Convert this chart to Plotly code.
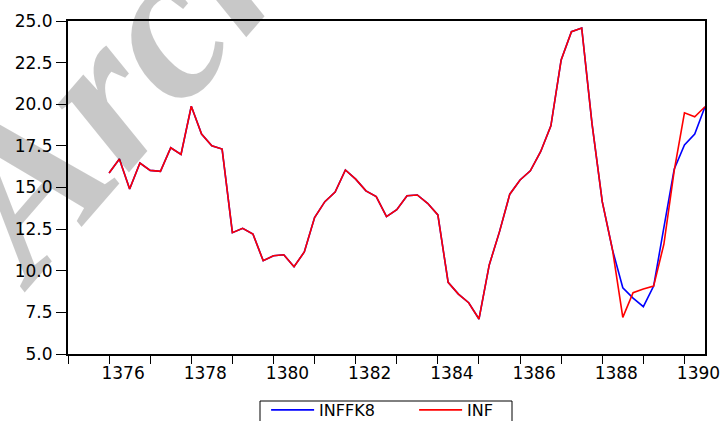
import plotly.graph_objects as go

# Quarterly series starting 1376Q1
start_year = 1376
inf = [15.87, 16.71, 14.91, 16.47, 16.03, 15.97, 17.39, 16.99, 19.88, 18.21,
       17.51, 17.31, 12.29, 12.55, 12.21, 10.60, 10.90, 10.96, 10.24, 11.13,
       13.19, 14.15, 14.73, 16.05, 15.50, 14.80, 14.45, 13.25, 13.67, 14.50,
       14.55, 14.05, 13.35, 9.30, 8.60, 8.08, 7.10, 10.35, 12.35, 14.60,
       15.45, 16.00, 17.15, 18.70, 22.66, 24.36, 24.58, 18.85, 14.15, 11.25,
       7.20, 8.68, 8.90, 9.08, 11.60, 16.00, 19.49, 19.25, 19.85]
inffk8 = [15.87, 16.71, 14.91, 16.47, 16.03, 15.97, 17.39, 16.99, 19.88, 18.21,
          17.51, 17.31, 12.29, 12.55, 12.21, 10.60, 10.90, 10.96, 10.24, 11.13,
          13.19, 14.15, 14.73, 16.05, 15.50, 14.80, 14.45, 13.25, 13.67, 14.50,
          14.55, 14.05, 13.35, 9.30, 8.60, 8.08, 7.10, 10.35, 12.35, 14.60,
          15.45, 16.00, 17.15, 18.70, 22.66, 24.36, 24.58, 18.85, 14.15, 11.25,
          8.98, 8.36, 7.84, 9.08, 12.60, 16.10, 17.55, 18.21, 19.85]
x_ticks = [1376, 1378, 1380, 1382, 1384, 1386, 1388, 1390]
y_ticks = [5.0, 7.5, 10.0, 12.5, 15.0, 17.5, 20.0, 22.5, 25.0]

x = [start_year + i / 4 for i in range(len(inf))]

FONT = "DejaVu Sans"

fig = go.Figure()
fig.add_trace(go.Scatter(x=x, y=inffk8, mode="lines", name="INFFK8",
                         line=dict(color="#0000ff", width=1.6)))
fig.add_trace(go.Scatter(x=x, y=inf, mode="lines", name="INF",
                         line=dict(color="#ff0000", width=1.6)))

# watermark (translucent so that black text beneath stays visible)
fig.add_annotation(text="Archive", xref="paper", yref="paper",
                   x=0.208, y=1.125, xanchor="center", yanchor="middle",
                   showarrow=False, textangle=-49,
                   font=dict(family="Liberation Serif, DejaVu Serif, serif",
                             size=215, color="rgba(0,0,0,0.216)",
                             weight="bold", style="italic"))

# legend frame
fig.add_shape(type="rect", xref="paper", yref="paper",
              x0=(260 - 68) / 637, x1=(512 - 68) / 637,
              y0=-(430 - 354) / 333, y1=-(401 - 354) / 333,
              line=dict(color="black", width=1), fillcolor="rgba(0,0,0,0)")

fig.update_layout(
    width=724, height=421,
    margin=dict(l=68, r=19, t=21, b=67, autoexpand=False),
    paper_bgcolor="white", plot_bgcolor="white",
    font=dict(family=FONT, size=17, color="black"),
    showlegend=True,
    legend=dict(orientation="h", x=0.311, y=-0.117, xanchor="left",
                yanchor="top", borderwidth=0, itemwidth=43,
                font=dict(family=FONT, size=16), entrywidth=90,
                entrywidthmode="pixels", bgcolor="rgba(0,0,0,0)"),
)
fig.update_xaxes(range=[1375, 1390.5], tickvals=x_ticks,
                 ticktext=[str(v) for v in x_ticks],
                 ticks="outside", ticklen=8, tickwidth=1, tickcolor="black",
                 minor=dict(dtick=1, tick0=1375, ticks="outside", ticklen=8,
                            tickcolor="black", showgrid=False),
                 showline=True, linecolor="black", linewidth=2, mirror=True,
                 showgrid=False, zeroline=False, ticklabelshift=14,
                 ticklabelstandoff=-5, automargin=False)
fig.update_yaxes(range=[5, 25], tickvals=y_ticks,
                 ticktext=[f"{v:.1f}" for v in y_ticks],
                 ticks="outside", ticklen=10, tickwidth=1, tickcolor="black",
                 showline=True, linecolor="black", linewidth=2, mirror=True,
                 showgrid=False, zeroline=False, automargin=False)

fig.write_html("out.html", config={"displayModeBar": False},
               post_script="document.body.style.margin='0';"
                           "document.body.style.padding='0';")
